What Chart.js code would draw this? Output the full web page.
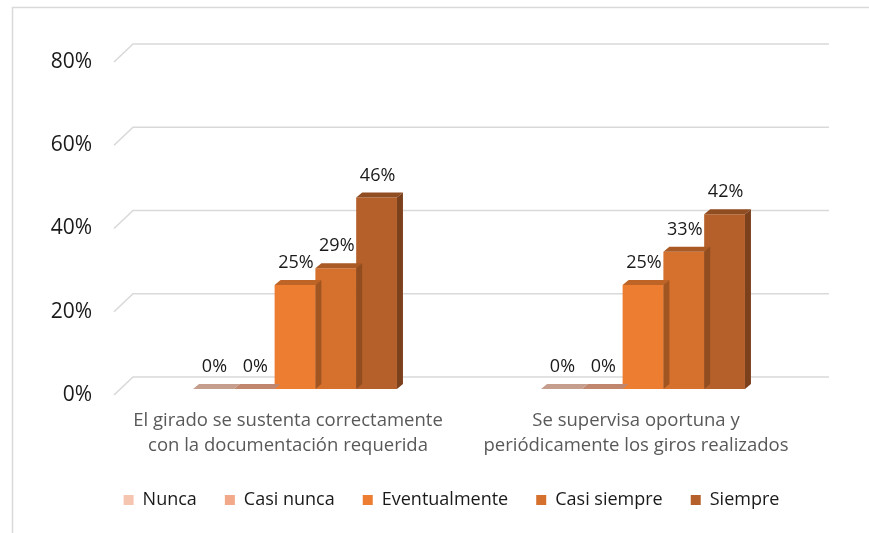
<!DOCTYPE html>
<html lang="es">
<head>
  <meta charset="UTF-8">
  <title>Giros</title>
  <script src="https://cdn.jsdelivr.net/npm/chart.js"></script>
  <style>
    html, body { margin: 0; padding: 0; background: #fff; }
    #wrap { width: 869px; height: 533px; }
  </style>
</head>
<body>
  <div id="wrap"><canvas id="grafico"></canvas></div>

  <script>
    const categorias = [
      ['El girado se sustenta correctamente', 'con la documentación requerida'],
      ['Se supervisa oportuna y', 'periódicamente los giros realizados']
    ];
    const nunca = [0, 0];
    const casiNunca = [0, 0];
    const eventualmente = [25, 25];
    const casiSiempre = [29, 33];
    const siempre = [46, 42];
    const ticksY = [0, 20, 40, 60, 80];

    const FUENTE = "'Open Sans', sans-serif";
    const DX = 6, DY = 5;         // profundidad de las barras
    const FX = -7, FY = 6;        // plano frontal (etiquetas)
    const BX = 12, BY = -12;      // pared del fondo

    function oscurecer(hex, f) {
      const n = parseInt(hex.slice(1), 16);
      const r = Math.round(((n >> 16) & 255) * f);
      const g = Math.round(((n >> 8) & 255) * f);
      const b = Math.round((n & 255) * f);
      return `rgb(${r},${g},${b})`;
    }

    // marco, rejilla 3D, caras de las barras y etiquetas
    const efecto3d = {
      id: 'efecto3d',
      beforeDraw(chart) {
        const ctx = chart.ctx;
        ctx.save();
        ctx.strokeStyle = '#d9d9d9';
        ctx.lineWidth = 1.5;
        ctx.beginPath();
        ctx.moveTo(12.5, 533);
        ctx.lineTo(12.5, 7.5);
        ctx.lineTo(869, 7.5);
        ctx.stroke();
        ctx.restore();
      },
      beforeDatasetsDraw(chart) {
        const ctx = chart.ctx;
        const y = chart.scales.y;
        const area = chart.chartArea;
        ctx.save();
        ctx.strokeStyle = '#d9d9d9';
        ctx.lineWidth = 1.6;
        ticksY.forEach(v => {
          const py = y.getPixelForValue(v);
          ctx.beginPath();
          ctx.moveTo(area.left + FX, py + FY);
          ctx.lineTo(area.left + BX, py + BY);
          ctx.lineTo(area.right + BX, py + BY);
          ctx.stroke();
        });
        ctx.restore();
      },
      afterDatasetDraw(chart, args) {
        const ctx = chart.ctx;
        const ds = chart.data.datasets[args.index];
        const meta = args.meta;
        ctx.save();
        meta.data.forEach(bar => {
          const l = bar.x - bar.width / 2;
          const r = bar.x + bar.width / 2;
          const t = bar.y;
          const b = bar.base;
          ctx.fillStyle = oscurecer(ds.backgroundColor, 0.8);
          ctx.beginPath();
          ctx.moveTo(l, t);
          ctx.lineTo(l + DX, t - DY);
          ctx.lineTo(r + DX, t - DY);
          ctx.lineTo(r, t);
          ctx.closePath();
          ctx.fill();
          ctx.fillStyle = oscurecer(ds.backgroundColor, 0.68);
          ctx.beginPath();
          ctx.moveTo(r, t);
          ctx.lineTo(r + DX, t - DY);
          ctx.lineTo(r + DX, b - DY);
          ctx.lineTo(r, b);
          ctx.closePath();
          ctx.fill();
        });
        ctx.restore();
      },
      afterDatasetsDraw(chart) {
        const ctx = chart.ctx;
        ctx.save();
        ctx.fillStyle = '#1a1a1a';
        ctx.font = '18px ' + FUENTE;
        ctx.textAlign = 'center';
        ctx.textBaseline = 'alphabetic';
        chart.data.datasets.forEach((ds, i) => {
          chart.getDatasetMeta(i).data.forEach((bar, j) => {
            ctx.fillText(ds.data[j] + '%', bar.x + 1, bar.y - 17);
          });
        });
        ctx.restore();
      }
    };

    const serie = (label, data, color) => ({
      label, data,
      backgroundColor: color,
      borderWidth: 0,
      barPercentage: 1,
      categoryPercentage: 0.586
    });

    new Chart(document.getElementById('grafico'), {
      type: 'bar',
      data: {
        labels: categorias,
        datasets: [
          serie('Nunca', nunca, '#f6c5b0'),
          serie('Casi nunca', casiNunca, '#f1a98a'),
          serie('Eventualmente', eventualmente, '#ed7d31'),
          serie('Casi siempre', casiSiempre, '#d5702d'),
          serie('Siempre', siempre, '#b5602a')
        ]
      },
      options: {
        responsive: true,
        maintainAspectRatio: false,
        animation: false,
        layout: { padding: { left: 34, right: 0, top: 56, bottom: 14 } },
        plugins: {
          legend: {
            position: 'bottom',
            labels: {
              boxWidth: 10,
              boxHeight: 10,
              padding: 28,
              color: '#1a1a1a',
              font: { family: FUENTE, size: 18 }
            }
          },
          tooltip: { enabled: false }
        },
        scales: {
          x: {
            grid: { display: false, drawTicks: false },
            border: { display: false },
            ticks: {
              color: '#595959',
              padding: 19,
              labelOffset: -7,
              font: { family: FUENTE, size: 18.5, lineHeight: 1.35 }
            },
            afterFit(scale) { scale.height = 74; }
          },
          y: {
            min: 0,
            max: 80,
            grid: { display: false, drawTicks: false },
            border: { display: false },
            afterBuildTicks(scale) { scale.ticks = ticksY.map(v => ({ value: v })); },
            afterFit(scale) { scale.width = 87; },
            ticks: {
              color: '#1a1a1a',
              padding: 29,
              labelOffset: 6,
              font: { family: FUENTE, size: 21 },
              callback: v => v + '%'
            }
          },
          y2: {
            position: 'right',
            min: 0,
            max: 80,
            grid: { display: false, drawTicks: false },
            border: { display: false },
            ticks: { display: false },
            afterFit(scale) { scale.width = 52; }
          }
        }
      },
      plugins: [efecto3d]
    });
  </script>
</body>
</html>
